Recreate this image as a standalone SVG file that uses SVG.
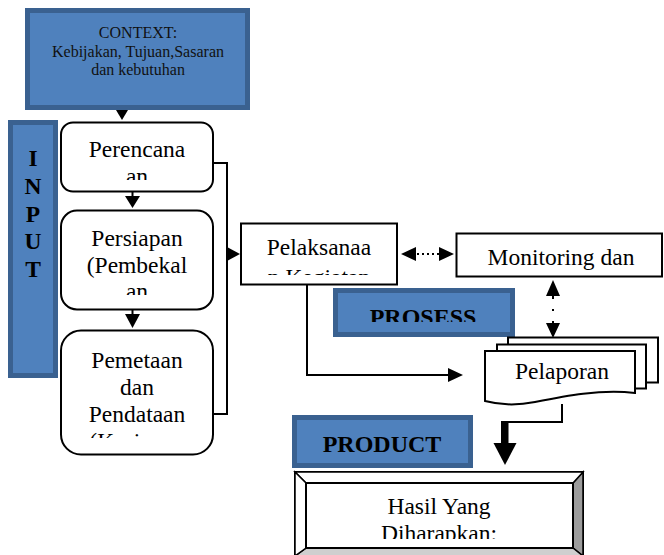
<svg xmlns="http://www.w3.org/2000/svg" width="664" height="555" viewBox="0 0 664 555">
<style>
.blue{fill:#4F81BD;stroke:#3A6190;stroke-width:5}
.box{fill:#fff;stroke:#000;stroke-width:2}
.t{font-family:"Liberation Serif","Times New Roman",serif;font-size:23.5px;fill:#000;text-anchor:middle}
.tb{font-family:"Liberation Serif","Times New Roman",serif;font-weight:bold;fill:#000;text-anchor:middle}
.ctx{font-family:"Liberation Serif","Times New Roman",serif;font-size:16px;fill:#111;text-anchor:middle}
.ln{fill:none;stroke:#000;stroke-width:2}
.dot{fill:none;stroke:#000;stroke-width:2;stroke-dasharray:2 3}
.ah{fill:#000}
</style>
<defs>
<clipPath id="cPer" clipPathUnits="userSpaceOnUse"><rect x="60" y="122" width="153" height="58"/></clipPath>
<clipPath id="cPers" clipPathUnits="userSpaceOnUse"><rect x="60" y="210" width="153" height="85"/></clipPath>
<clipPath id="cPem" clipPathUnits="userSpaceOnUse"><rect x="60" y="330" width="153" height="108"/></clipPath>
<clipPath id="cPel" clipPathUnits="userSpaceOnUse"><rect x="241" y="223" width="156" height="52"/></clipPath>
<clipPath id="cMon" clipPathUnits="userSpaceOnUse"><rect x="456" y="233" width="206" height="44"/></clipPath>
<clipPath id="cPro" clipPathUnits="userSpaceOnUse"><rect x="335" y="290" width="177" height="32"/></clipPath>
<clipPath id="cHas" clipPathUnits="userSpaceOnUse"><rect x="306" y="483" width="267" height="56"/></clipPath>
</defs>

<g id="context">
<rect class="blue" x="27.5" y="10.5" width="220" height="97"/>
<text class="ctx" x="138" y="38">CONTEXT:</text>
<text class="ctx" x="138" y="56.5">Kebijakan, Tujuan,Sasaran</text>
<text class="ctx" x="138" y="74.5">dan kebutuhan</text>
</g>

<g id="input">
<rect class="blue" x="10.5" y="122.5" width="45" height="253"/>
<text class="tb" font-size="23.5" x="33" y="166">I</text>
<text class="tb" font-size="23.5" x="33" y="193.5">N</text>
<text class="tb" font-size="23.5" x="33" y="221.5">P</text>
<text class="tb" font-size="23.5" x="33" y="248.5">U</text>
<text class="tb" font-size="23.5" x="33" y="276.5">T</text>
</g>

<g id="perencanaan">
<rect class="box" x="61" y="122.5" width="152" height="69" rx="12"/>
<g clip-path="url(#cPer)">
<text class="t" x="137" y="157">Perencana</text>
<text class="t" x="137" y="184">an</text>
</g>
</g>

<g id="persiapan">
<rect class="box" x="61" y="210.5" width="152" height="99" rx="16"/>
<g clip-path="url(#cPers)">
<text class="t" x="137" y="246">Persiapan</text>
<text class="t" x="137" y="273">(Pembekal</text>
<text class="t" x="137" y="299">an</text>
</g>
</g>

<g id="pemetaan">
<rect class="box" x="61" y="330.5" width="152" height="124" rx="20"/>
<g clip-path="url(#cPem)">
<text class="t" x="137" y="368">Pemetaan</text>
<text class="t" x="137" y="395">dan</text>
<text class="t" x="137" y="422">Pendataan</text>
<text class="t" x="137" y="449">(Kesiapan</text>
</g>
</g>

<g id="pelaksanaan">
<rect class="box" x="241" y="223.5" width="156" height="61"/>
<g clip-path="url(#cPel)">
<text class="t" x="319" y="255">Pelaksanaa</text>
<text class="t" x="319" y="285">n Kegiatan</text>
</g>
</g>

<g id="monitoring">
<rect class="box" x="456.5" y="233.5" width="205.5" height="43"/>
<g clip-path="url(#cMon)">
<text class="t" x="561" y="265">Monitoring dan</text>
</g>
</g>

<g id="prosess">
<rect class="blue" x="335.5" y="290.5" width="177" height="44"/>
<g clip-path="url(#cPro)">
<text class="tb" font-size="24" x="423" y="325">PROSESS</text>
</g>
</g>

<g id="pelaporan">
<rect class="box" x="508" y="337.5" width="150" height="45"/>
<rect class="box" x="497" y="344.5" width="149" height="44"/>
<path class="box" d="M485,351 H635 V393 C600,389 565,396 535,402 C515,406 500,405 485,401 Z"/>
<text class="t" x="562" y="379">Pelaporan</text>
</g>

<g id="product">
<rect class="blue" x="294.5" y="417.5" width="176" height="48"/>
<text class="tb" font-size="24" x="382" y="452">PRODUCT</text>
</g>

<g id="hasil">
<rect x="295" y="472" width="288" height="84" fill="#fff" stroke="#000" stroke-width="2"/>
<polygon points="583,472 573,483 573,548 583,556" fill="#9c9c9c" stroke="#000" stroke-width="1.5"/>
<polygon points="295,556 306,548 573,548 583,556" fill="#cfcfcf" stroke="#000" stroke-width="1.5"/>
<polygon points="295,472 583,472 573,483 306,483" fill="#fff" stroke="#000" stroke-width="1.5"/>
<polygon points="295,472 306,483 306,548 295,556" fill="#fff" stroke="#000" stroke-width="1.5"/>
<rect x="306" y="483" width="267" height="65" fill="#fff" stroke="#000" stroke-width="2"/>
<g clip-path="url(#cHas)">
<text class="t" x="439" y="514">Hasil Yang</text>
<text class="t" x="439" y="541">Diharapkan:</text>
</g>
</g>

<g id="connectors">
<polygon class="ah" points="116,110 128,110 122,120"/>
<line class="ln" x1="132.5" y1="192" x2="132.5" y2="198"/>
<polygon class="ah" points="125,196 140,196 132.5,208"/>
<line class="ln" x1="132.5" y1="310" x2="132.5" y2="316"/>
<polygon class="ah" points="125,314 140,314 132.5,328"/>
<path class="ln" d="M213,163 H227 V414 H213"/>
<polygon class="ah" points="227,247 227,261 240,254"/>
<polygon class="ah" points="401,254 416,247 416,261"/>
<line class="dot" x1="417" y1="254" x2="439" y2="254"/>
<polygon class="ah" points="454,254 439,247 439,261"/>
<polygon class="ah" points="553,280 546,296 560,296"/>
<line class="ln" x1="553" y1="296" x2="553" y2="299"/>
<line class="ln" x1="553" y1="309" x2="553" y2="311"/>
<line class="ln" x1="553" y1="321" x2="553" y2="324"/>
<polygon class="ah" points="553,338 546,323 560,323"/>
<path class="ln" d="M307,285 V375 H450"/>
<polygon class="ah" points="463,375 448,368 448,382"/>
<path class="ln" d="M562,404 V422 H506"/>
<rect class="ah" x="501" y="421" width="7.5" height="23"/>
<polygon class="ah" points="493.5,443 516.5,443 505,465"/>
</g>
</svg>
